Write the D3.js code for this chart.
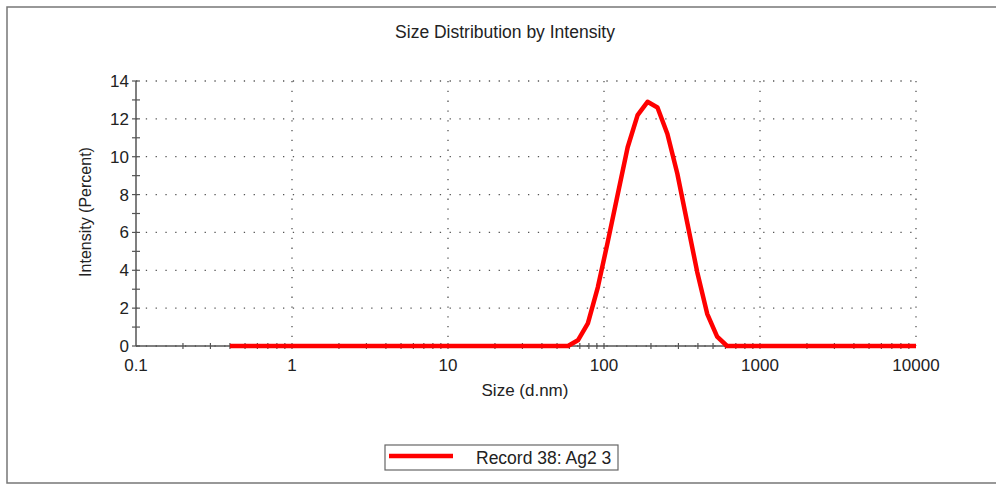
<!DOCTYPE html>
<html>
<head>
<meta charset="utf-8">
<script src="https://cdn.jsdelivr.net/npm/d3@7"></script>
<style>
  body { margin: 0; background: #fff; }
  text { font-family: "Liberation Sans", Arial, sans-serif; fill: #222; }
</style>
</head>
<body>
<div id="chart"></div>
<script>
// size bins (d.nm) and intensity (%)
const sizes = [0.4, 58.77, 68.06, 78.82, 91.28, 105.7, 122.4, 141.8, 164.2, 190.1, 220.2,
  255.0, 295.3, 342.0, 396.1, 458.7, 531.2, 615.1, 10000];
const intensity = [0, 0, 0.3, 1.2, 3.1, 5.5, 8.0, 10.5, 12.2, 12.9, 12.6,
  11.2, 9.1, 6.5, 3.9, 1.7, 0.5, 0, 0];
const xTicks = [0.1, 1, 10, 100, 1000, 10000];
const yTicks = [0, 2, 4, 6, 8, 10, 12, 14];
const seriesName = "Record 38: Ag2 3";

const W = 996, H = 485;
const margin = { top: 81, right: 80, bottom: 139, left: 136 };
const width = 916 - margin.left;
const height = 346 - margin.top;

const svg = d3.select("#chart").append("svg")
  .attr("width", W).attr("height", H);

// outer frame (left, top, bottom)
svg.append("path")
  .attr("d", `M${W},7 H7 V483 H${W}`)
  .attr("fill", "none").attr("stroke", "#777").attr("stroke-width", 1.5);

svg.append("text")
  .attr("x", 505).attr("y", 38)
  .attr("text-anchor", "middle")
  .attr("font-size", 17.5)
  .text("Size Distribution by Intensity");

const g = svg.append("g").attr("transform", `translate(${margin.left},${margin.top})`);

const x = d3.scaleLog().domain([0.1, 10000]).range([0, width]);
const y = d3.scaleLinear().domain([0, 14]).range([height, 0]);

// dotted grid
g.selectAll(".hgrid").data(yTicks).join("line")
  .attr("class", "hgrid")
  .attr("x1", 0).attr("x2", width)
  .attr("y1", d => y(d)).attr("y2", d => y(d))
  .attr("stroke", "#555").attr("stroke-width", 1.3)
  .attr("stroke-dasharray", "1.3,8.5");
g.selectAll(".vgrid").data(xTicks.slice(1)).join("line")
  .attr("class", "vgrid")
  .attr("x1", d => x(d)).attr("x2", d => x(d))
  .attr("y1", 0).attr("y2", height)
  .attr("stroke", "#555").attr("stroke-width", 1.3)
  .attr("stroke-dasharray", "1.3,8.5");

// axes
const yMinor = d3.range(0, 15, 1);
g.selectAll(".ytick").data(yMinor).join("line")
  .attr("class", "ytick")
  .attr("x1", -4).attr("x2", 4)
  .attr("y1", d => y(d)).attr("y2", d => y(d))
  .attr("stroke", "#555").attr("stroke-width", 1.2);
g.append("line").attr("x1", 0).attr("x2", 0).attr("y1", 0).attr("y2", height)
  .attr("stroke", "#555").attr("stroke-width", 1.5);
g.selectAll(".ylab").data(yTicks).join("text")
  .attr("class", "ylab")
  .attr("x", -7).attr("y", d => y(d) + 6)
  .attr("text-anchor", "end").attr("font-size", 17)
  .text(d => d);

const xMinor = x.ticks().filter(d => d > 0.1 && d < 10000);
g.selectAll(".xtick").data(xMinor).join("line")
  .attr("class", "xtick")
  .attr("x1", d => x(d)).attr("x2", d => x(d))
  .attr("y1", height - 3).attr("y2", height + 3)
  .attr("stroke", "#555").attr("stroke-width", 1.2);
g.append("line").attr("x1", 0).attr("x2", width).attr("y1", height).attr("y2", height)
  .attr("stroke", "#555").attr("stroke-width", 1.5);
g.selectAll(".xlab").data(xTicks).join("text")
  .attr("class", "xlab")
  .attr("x", d => x(d)).attr("y", height + 25)
  .attr("text-anchor", "middle").attr("font-size", 17)
  .text(d => d);

g.append("text")
  .attr("x", 525 - margin.left).attr("y", height + 50)
  .attr("text-anchor", "middle").attr("font-size", 17)
  .text("Size (d.nm)");
g.append("text")
  .attr("transform", "rotate(-90)")
  .attr("x", -(212 - margin.top)).attr("y", -45)
  .attr("text-anchor", "middle").attr("font-size", 16)
  .text("Intensity (Percent)");

// the distribution line
const data = sizes.map((s, i) => ({ size: s, value: intensity[i] }));
g.append("path")
  .datum(data)
  .attr("fill", "none")
  .attr("stroke", "#f00")
  .attr("stroke-width", 4.5)
  .attr("stroke-linejoin", "round")
  .attr("d", d3.line().x(d => x(d.size)).y(d => y(d.value)));

// legend
const lg = svg.append("g").attr("transform", "translate(385,445)");
lg.append("rect").attr("width", 233).attr("height", 25)
  .attr("fill", "#fff").attr("stroke", "#666").attr("stroke-width", 1.2);
lg.append("line").attr("x1", 4).attr("x2", 68).attr("y1", 11).attr("y2", 11)
  .attr("stroke", "#f00").attr("stroke-width", 4.5);
lg.append("text").attr("x", 91).attr("y", 19).attr("font-size", 17.5)
  .text(seriesName);
</script>
</body>
</html>
